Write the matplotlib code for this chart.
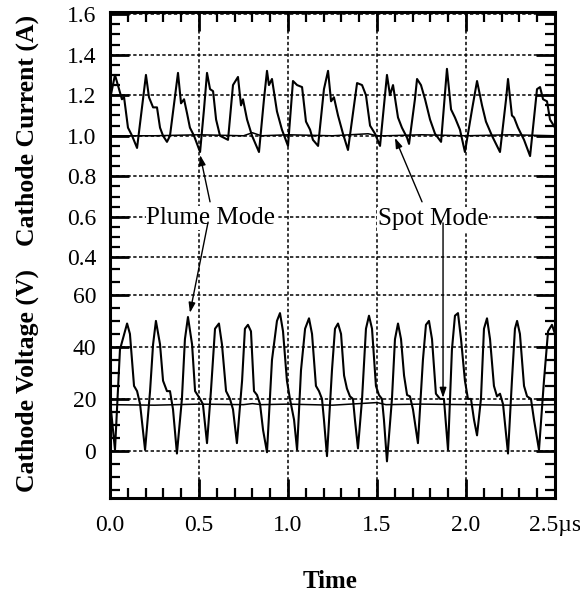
import matplotlib
matplotlib.use("Agg")
import matplotlib.pyplot as plt

plt.rcParams['font.family'] = ['Liberation Serif', 'DejaVu Serif']

# time axis (microseconds)
x_ticks = [0.0, 0.5, 1.0, 1.5, 2.0, 2.5]
x_labels = ['0.0', '0.5', '1.0', '1.5', '2.0', '2.5\u00b5s']

# left axis carries two scales: current (A) on top, voltage (V) below
cur_ticks = [0.4, 0.6, 0.8, 1.0, 1.2, 1.4, 1.6]
volt_ticks = [0, 20, 40, 60]

# plume mode cathode current trace
cur_t = [0.000, 0.028, 0.067, 0.079, 0.101, 0.124, 0.152, 0.202, 0.219, 0.242,
         0.264, 0.281, 0.298, 0.320, 0.337, 0.382, 0.399, 0.416, 0.433, 0.449,
         0.472, 0.506, 0.528, 0.545, 0.562, 0.579, 0.596, 0.618, 0.663, 0.691,
         0.719, 0.736, 0.747, 0.770, 0.798, 0.837, 0.865, 0.882, 0.893, 0.910,
         0.938, 0.966, 1.000, 1.028, 1.051, 1.079, 1.101, 1.124, 1.140, 1.169,
         1.202, 1.225, 1.242, 1.258, 1.281, 1.309, 1.337, 1.388, 1.416, 1.438,
         1.461, 1.489, 1.517, 1.556, 1.573, 1.590, 1.618, 1.640, 1.669, 1.680,
         1.713, 1.725, 1.747, 1.770, 1.798, 1.826, 1.860, 1.893, 1.916, 1.938,
         1.966, 1.994, 2.034, 2.062, 2.090, 2.112, 2.146, 2.191, 2.225, 2.236,
         2.258, 2.270, 2.292, 2.326, 2.360, 2.399, 2.416, 2.433, 2.455, 2.472, 2.500]
cur_i = [1.18, 1.30, 1.18, 1.19, 1.04, 1.00, 0.94, 1.30, 1.19, 1.14,
         1.14, 1.04, 1.00, 0.97, 1.00, 1.31, 1.16, 1.18, 1.11, 1.04,
         1.00, 0.92, 1.13, 1.31, 1.23, 1.22, 1.08, 1.00, 0.98, 1.25,
         1.29, 1.15, 1.18, 1.08, 1.00, 0.92, 1.18, 1.32, 1.25, 1.28,
         1.12, 1.03, 0.95, 1.27, 1.25, 1.24, 1.07, 1.03, 0.98, 0.95,
         1.23, 1.32, 1.17, 1.19, 1.10, 1.01, 0.93, 1.26, 1.25, 1.20,
         1.05, 1.01, 0.95, 1.30, 1.20, 1.25, 1.09, 1.04, 0.99, 0.96,
         1.18, 1.28, 1.25, 1.18, 1.08, 1.01, 0.97, 1.33, 1.13, 1.09,
         1.03, 0.92, 1.13, 1.27, 1.15, 1.07, 1.00, 0.92, 1.18, 1.28,
         1.10, 1.09, 1.04, 0.98, 0.90, 1.23, 1.24, 1.18, 1.17, 1.08, 1.04]

# plume mode cathode voltage trace
volt_t = [0.000, 0.017, 0.028, 0.056, 0.096, 0.112, 0.135, 0.152, 0.169, 0.197,
          0.225, 0.242, 0.258, 0.281, 0.298, 0.320, 0.337, 0.354, 0.376, 0.404,
          0.421, 0.438, 0.461, 0.478, 0.506, 0.522, 0.545, 0.567, 0.590, 0.612,
          0.629, 0.652, 0.674, 0.691, 0.713, 0.742, 0.758, 0.775, 0.792, 0.809,
          0.826, 0.843, 0.860, 0.882, 0.910, 0.938, 0.955, 0.972, 0.994, 1.011,
          1.034, 1.051, 1.073, 1.096, 1.118, 1.135, 1.157, 1.174, 1.191, 1.202,
          1.219, 1.247, 1.264, 1.281, 1.298, 1.315, 1.331, 1.348, 1.365, 1.376,
          1.393, 1.416, 1.438, 1.455, 1.472, 1.494, 1.511, 1.528, 1.539, 1.556,
          1.584, 1.601, 1.618, 1.635, 1.652, 1.669, 1.685, 1.702, 1.730, 1.758,
          1.775, 1.792, 1.809, 1.831, 1.854, 1.876, 1.899, 1.921, 1.938, 1.955,
          1.972, 1.994, 2.011, 2.028, 2.045, 2.062, 2.084, 2.101, 2.118, 2.135,
          2.157, 2.174, 2.191, 2.208, 2.236, 2.258, 2.275, 2.287, 2.303, 2.326,
          2.343, 2.365, 2.382, 2.410, 2.438, 2.461, 2.483, 2.500]
volt_v = [19.6, 8, 0.4, 39, 49, 45, 25, 23, 18, 0.4,
          23, 41, 50, 41, 27, 23, 23, 16, -1, 20,
          43, 51.5, 41, 23, 20, 18, 3, 23, 47, 49,
          41, 23, 20, 16, 3, 27, 47, 48.5, 46, 23,
          21.5, 18, 8, -0.5, 35, 50, 53, 46, 27, 20,
          12, 0.4, 31, 47, 51, 45, 25, 23, 20, 12,
          -2, 31, 47, 49, 45, 29, 24, 21, 20, 12,
          1, 20, 47, 52, 47, 25, 21.5, 20, 12, -4,
          20, 43, 49, 43, 29, 21.5, 21, 16, 3, 35,
          48.5, 50, 43, 22, 20, 20, 0.4, 39, 52, 53,
          43, 27, 20, 20, 12, 6, 20, 47, 51, 43,
          25, 21, 22, 18, -1, 27, 47, 50, 45, 25,
          21, 20, 12, 0.4, 27, 46, 48.5, 45]

# spot mode traces (nearly flat)
spot_t = [0.0, 0.25, 0.5, 0.75, 0.8, 0.85, 1.0, 1.25, 1.45, 1.5, 1.55, 1.75, 2.0, 2.25, 2.5]
spot_i = [1.0, 1.0, 1.005, 1.0, 1.015, 1.0, 1.005, 1.0, 1.01, 1.0, 1.0, 1.005, 1.0, 1.005, 1.0]
spot_v = [17.8, 17.6, 18.0, 17.8, 18.2, 17.8, 18.0, 17.6, 18.4, 18.6, 17.8, 18.0, 17.8, 17.6, 17.8]


def cur_to_ax(i):
    # current plotted on the voltage scale: 1.0 A sits at 121.2, 0.2 A = 15.6
    return 43.2 + 78.0 * i


fig = plt.figure(figsize=(5.8, 5.96), dpi=100)
ax = fig.add_axes([110 / 580, 1 - 498 / 596, 445 / 580, 486 / 596])

ax.plot(cur_t, [cur_to_ax(v) for v in cur_i], color='black', lw=1.5)
ax.plot(spot_t, [cur_to_ax(v) for v in spot_i], color='black', lw=1.1)
ax.plot(volt_t, volt_v, color='black', lw=1.5)
ax.plot(spot_t, spot_v, color='black', lw=1.1)

ax.set_xlim(0, 2.5)
ax.set_ylim(-18.1, 168.8)

yt = volt_ticks + [cur_to_ax(c) for c in cur_ticks]
yl = [str(v) for v in volt_ticks] + ['%.1f' % c for c in cur_ticks]
ax.set_yticks(yt)
ax.set_yticklabels(yl)
ax.set_xticks(x_ticks)
ax.set_xticklabels(x_labels)

minor_x = [i / 10 for i in range(26) if i % 5]
minor_y = [v for v in range(-15, 71, 5) if v % 20] + \
          [cur_to_ax(0.45 + 0.05 * k) for k in range(24) if (k + 1) % 4]
ax.set_xticks(minor_x, minor=True)
ax.set_yticks(minor_y, minor=True)

ax.tick_params(which='both', direction='in', top=True, right=True, labelsize=17)
ax.tick_params(which='major', length=14, width=2)
ax.tick_params(which='minor', length=7, width=1.6)
ax.tick_params(axis='y', pad=10)
ax.tick_params(axis='x', pad=12)
for s in ax.spines.values():
    s.set_linewidth(2.2)

ax.grid(True, which='major', color='black', lw=1.1, linestyle=(0, (2.2, 1.6)))

# annotations
box = dict(facecolor='white', edgecolor='none', pad=0.5)
arrow = dict(arrowstyle='-|>,head_length=0.6,head_width=0.2', color='black', lw=1.0,
             shrinkA=0, shrinkB=0)
ax.text(0.567, 89.6, 'Plume Mode', ha='center', va='center', fontsize=18, bbox=box, zorder=4)
ax.annotate('', xy=(0.506, 113.8), xytext=(0.562, 95.8), arrowprops=arrow, zorder=5)
ax.annotate('', xy=(0.449, 53.1), xytext=(0.551, 88.0), arrowprops=arrow, zorder=5)
ax.text(1.815, 89.2, 'Spot Mode', ha='center', va='center', fontsize=18, bbox=box, zorder=4)
ax.annotate('', xy=(1.601, 120.4), xytext=(1.753, 95.8), arrowprops=arrow, zorder=5)
ax.annotate('', xy=(1.871, 20.4), xytext=(1.871, 87.7), arrowprops=arrow, zorder=5)

fig.text(27 / 580, 1 - 130 / 596, 'Cathode Current (A)', rotation=90, ha='center',
         va='center', fontsize=18.5, fontweight='bold')
fig.text(27 / 580, 1 - 380 / 596, 'Cathode Voltage (V)', rotation=90, ha='center',
         va='center', fontsize=18.5, fontweight='bold')
fig.text(330 / 580, 1 - 581 / 596, 'Time', ha='center', va='center',
         fontsize=18, fontweight='bold')

fig.savefig('out.png', dpi=100)
